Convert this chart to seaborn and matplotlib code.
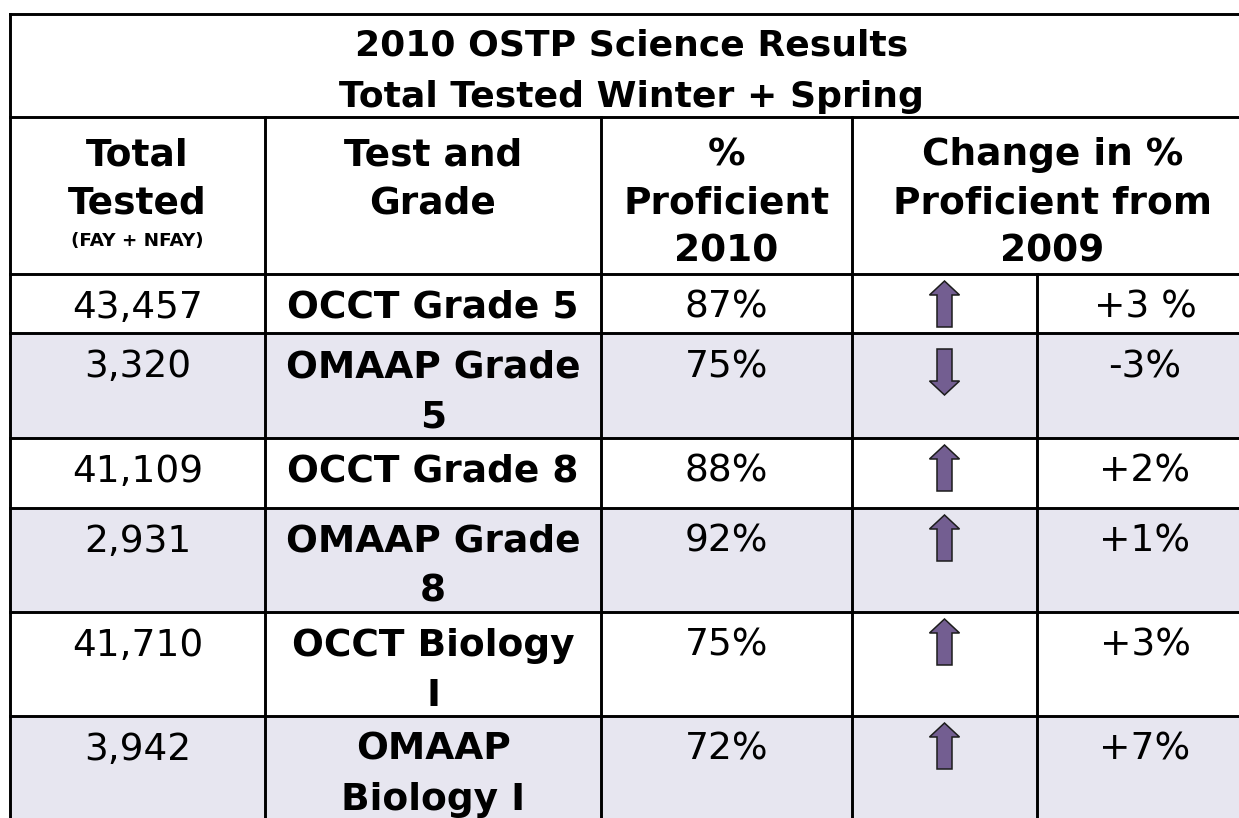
import matplotlib
matplotlib.use("Agg")
import matplotlib.pyplot as plt
from matplotlib.patches import Polygon, Rectangle
import seaborn as sns

sns.set_theme(style="white")
plt.rcParams["font.family"] = ["DejaVu Sans"]

# ---- data ----
title_lines = ["2010 OSTP Science Results", "Total Tested Winter + Spring"]
header_cols = [["Total", "Tested"],
               ["Test and", "Grade"],
               ["%", "Proficient", "2010"],
               ["Change in %", "Proficient from", "2009"]]
header_note = "(FAY + NFAY)"
total_tested = [43457, 3320, 41109, 2931, 41710, 3942]
tests = ["OCCT Grade 5", "OMAAP Grade\n5", "OCCT Grade 8",
         "OMAAP Grade\n8", "OCCT Biology\nI", "OMAAP\nBiology I"]
pct_proficient = [87, 75, 88, 92, 75, 72]
change_pts = [3, -3, 2, 1, 3, 7]
change_labels = ["+3 %", "-3%", "+2%", "+1%", "+3%", "+7%"]

# ---- layout (pixels) ----
W, H = 1239, 818
col_edges = [10, 265, 601, 852, 1037, 1253]
table_top, title_bottom, header_bottom = 14, 117, 274
row_heights = [59, 105, 70, 104, 104, 130]
SHADE = "#E7E6F0"
ARROW = "#735E91"
LW = 2.1
FS = 27
LINE_STEP = 50

fig = plt.figure(figsize=(W / 100, H / 100), dpi=100)
ax = fig.add_axes([0, 0, 1, 1])
ax.set_xlim(0, W)
ax.set_ylim(H, 0)
ax.axis("off")

left, right = col_edges[0], col_edges[-1]
row_tops = [header_bottom]
for h in row_heights[:-1]:
    row_tops.append(row_tops[-1] + h)


def centers(a, b):
    return (a + b) / 2


def put(x, base, text, bold=False, size=FS):
    for k, line in enumerate(text.split("\n")):
        ax.text(x, base + k * LINE_STEP, line, ha="center", va="baseline",
                fontsize=size, fontweight="bold" if bold else "normal",
                color="black", zorder=3)


def arrow(cx, cy, up=True):
    h, sw, hw, hl = 23, 7.5, 15, 14
    s = -1 if up else 1
    pts = [(cx - sw, cy - s * h), (cx - sw, cy + s * (h - hl)),
           (cx - hw, cy + s * (h - hl)), (cx, cy + s * h),
           (cx + hw, cy + s * (h - hl)), (cx + sw, cy + s * (h - hl)),
           (cx + sw, cy - s * h)]
    ax.add_patch(Polygon(pts, closed=True, facecolor=ARROW,
                         edgecolor="#1c1c1c", linewidth=1.1, zorder=3))


# shaded rows
for i, (top, h) in enumerate(zip(row_tops, row_heights)):
    if i % 2 == 1:
        ax.add_patch(Rectangle((left, top), right - left, h,
                               facecolor=SHADE, edgecolor="none", zorder=1))

# title
tx = centers(left, right)
put(tx, 55, title_lines[0], bold=True, size=26)
put(tx, 107, title_lines[1], bold=True, size=26)

# header
hdr_x = [centers(col_edges[0], col_edges[1]), centers(col_edges[1], col_edges[2]),
         centers(col_edges[2], col_edges[3]), centers(col_edges[3], col_edges[5])]
hdr_base = [165, 213, 262]
for x, lines in zip(hdr_x, header_cols):
    for k, line in enumerate(lines):
        put(x, hdr_base[k], line, bold=True)
put(hdr_x[0], 246, header_note, bold=True, size=13.2)

# body
arrow_x = centers(col_edges[3], col_edges[4])
val_x = centers(col_edges[4], col_edges[5])
for i, top in enumerate(row_tops):
    base = top + 44
    put(hdr_x[0], base, f"{total_tested[i]:,}")
    put(hdr_x[1], base, tests[i], bold=True)
    put(hdr_x[2], base, f"{pct_proficient[i]}%")
    up = change_pts[i] > 0
    arrow(arrow_x, top + (30 if up else 39), up=up)
    put(val_x, base, change_labels[i])

# grid lines
kw = dict(color="black", linewidth=LW, zorder=4, solid_capstyle="projecting")
for y in [table_top, title_bottom, header_bottom] + row_tops[1:]:
    ax.plot([left, right], [y, y], **kw)
ax.plot([left, left], [table_top, H + 5], **kw)
for x in col_edges[1:4]:
    ax.plot([x, x], [title_bottom, H + 5], **kw)
ax.plot([col_edges[4], col_edges[4]], [header_bottom, H + 5], **kw)

fig.savefig("out.png", dpi=100)
